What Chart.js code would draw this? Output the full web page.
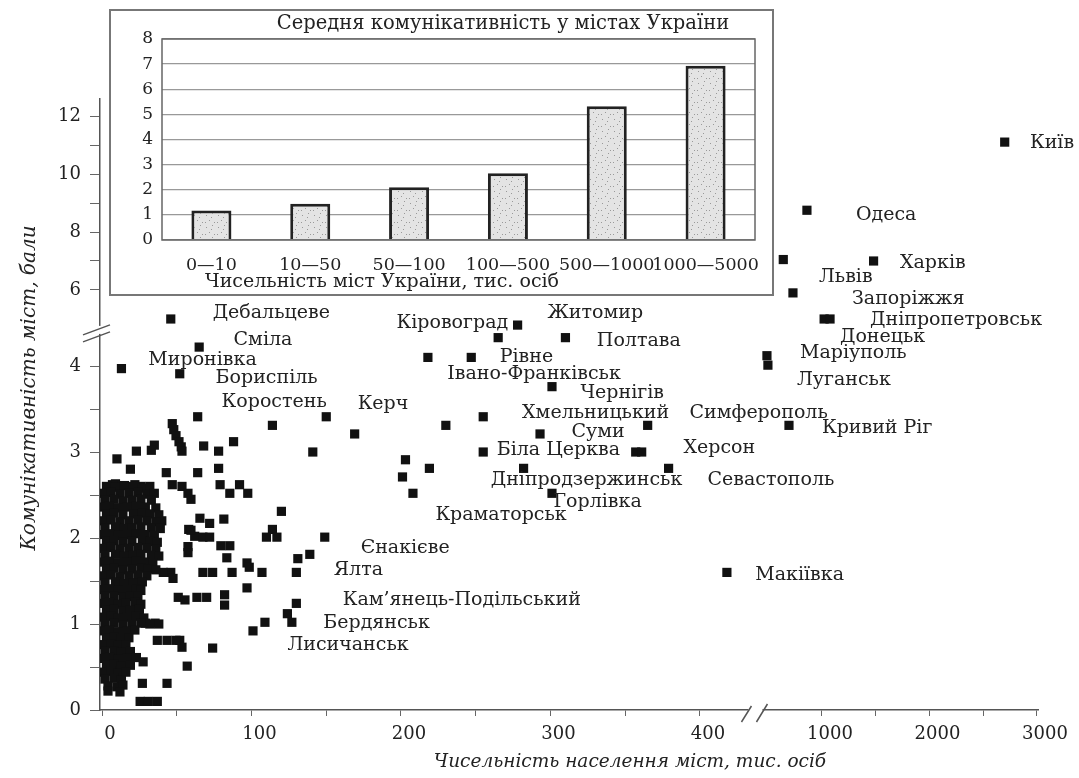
<!DOCTYPE html>
<html>
<head>
<meta charset="utf-8">
<script src="https://cdn.jsdelivr.net/npm/chart.js@4.4.1/dist/chart.umd.min.js"></script>
<style>
  body { margin: 0; background: #fff; }
  #wrap { position: relative; width: 1079px; height: 778px; }
  #main { position: absolute; left: 0; top: 0; }
  #inset { position: absolute; left: 108px; top: 8px; }
</style>
</head>
<body>
<div id="wrap">
  <canvas id="main" width="1079" height="778"></canvas>
  <canvas id="inset" width="667" height="289"></canvas>
</div>
<script>
// axis ticks (real values, both axes are broken)
const xTickValues = [0, 50, 100, 150, 200, 250, 300, 350, 400, 1000, 1500, 2000, 2500, 3000];
const xTickLabels = ['0', '', '100', '', '200', '', '300', '', '400', '1000', '', '2000', '', '3000'];
const yTickValues = [0, 0.5, 1, 1.5, 2, 2.5, 3, 3.5, 4, 6, 7, 8, 9, 10, 11, 12];
const yTickLabels = ['0', '', '1', '', '2', '', '3', '', '4', '6', '', '8', '', '10', '', '12'];

// cities outside the dense cluster: [population, thousand; communicativity]
const outerPoints = [
  [2700, 11.1], [860, 8.75], [1480, 7.0], [640, 7.05], [730, 5.9], [1020, 5.0], [1075, 5.0],
  [488, 4.12], [497, 4.01], [693, 3.31], [418, 1.6],
  [278, 4.79], [46, 5.0], [265, 4.33], [310, 4.33], [218, 4.1], [247, 4.1], [301, 3.76],
  [255, 3.41], [293, 3.21], [365, 3.31], [230, 3.31], [255, 3.0], [357, 3.0], [361, 3.0],
  [203, 2.91], [219, 2.81], [201, 2.71], [282, 2.81], [379, 2.81], [208, 2.52], [301, 2.52],
  [150, 3.41], [169, 3.21], [141, 3.0], [114, 3.31], [64, 3.41], [65, 4.22], [13, 3.97], [52, 3.91],
  [10, 2.92], [23, 3.01], [19, 2.8], [35, 3.08], [33, 3.02], [47, 3.33], [48, 3.26], [49.5, 3.19],
  [51.5, 3.12], [53, 3.06], [53.5, 3.01], [68, 3.07], [78, 3.01], [88, 3.12], [43, 2.76], [64, 2.76],
  [78, 2.81], [9, 2.63], [47, 2.62], [53.5, 2.6], [57.5, 2.52], [59.5, 2.45], [79, 2.62], [85.5, 2.52],
  [92, 2.62], [97.5, 2.52], [120, 2.31], [149, 2.01], [110, 2.01], [114, 2.1], [117, 2.01],
  [65.5, 2.23], [72, 2.17], [81.5, 2.22], [58, 2.1], [62, 2.02], [67.5, 2.01], [72, 2.01],
  [57.5, 1.9], [57.5, 1.83], [79.5, 1.91], [85.5, 1.91], [83.5, 1.77], [97, 1.71], [98.5, 1.66],
  [67.5, 1.6], [74, 1.6], [87, 1.6], [107, 1.6], [131, 1.76], [139, 1.81], [130, 1.6], [97, 1.42],
  [51, 1.31], [55.5, 1.28], [63.5, 1.31], [70, 1.31], [82, 1.34], [82, 1.22], [130, 1.24],
  [124, 1.12], [127, 1.02], [109, 1.02], [101, 0.92], [74, 0.72], [57, 0.51], [52, 0.81],
  [53.5, 0.73], [37, 0.81], [43.5, 0.81], [49.5, 0.81], [35.5, 1.01], [29, 1.01], [27.5, 0.56],
  [27, 0.31], [43.5, 0.31], [25.5, 0.1], [31, 0.1], [37, 0.1], [46, 1.6], [47.5, 1.53],
  [59.5, 2.09], [22, 2.62], [26, 2.6], [7, 2.62], [40, 2.2], [41, 1.6], [38, 1.0]
];

// small towns, dense block near the origin
const clusterPoints = [
  [3, 2.6], [9, 2.59], [15, 2.61], [21, 2.6], [27, 2.58], [32, 2.6],
  [1, 2.52], [6, 2.53], [12, 2.51], [18, 2.52], [24, 2.53], [30, 2.51], [35, 2.52],
  [2, 2.44], [8, 2.45], [14, 2.43], [20, 2.44], [26, 2.45], [33, 2.44],
  [1, 2.36], [5, 2.37], [11, 2.35], [17, 2.36], [23, 2.37], [29, 2.36], [36, 2.35],
  [3, 2.28], [8, 2.29], [14, 2.27], [21, 2.28], [27, 2.29], [32, 2.28], [38, 2.27],
  [1, 2.2], [6, 2.21], [12, 2.19], [18, 2.2], [24, 2.21], [30, 2.2], [36, 2.19],
  [2, 2.12], [9, 2.13], [15, 2.11], [20, 2.12], [26, 2.13], [33, 2.12], [39, 2.11],
  [1, 2.04], [5, 2.05], [11, 2.03], [17, 2.04], [23, 2.05], [29, 2.04], [35, 2.03],
  [3, 1.96], [8, 1.97], [14, 1.95], [20, 1.96], [27, 1.97], [32, 1.96], [37, 1.95],
  [1, 1.88], [6, 1.89], [12, 1.87], [18, 1.88], [24, 1.89], [30, 1.88], [36, 1.87],
  [2, 1.8], [9, 1.81], [15, 1.79], [21, 1.8], [26, 1.81], [33, 1.8], [38, 1.79],
  [1, 1.72], [5, 1.73], [11, 1.71], [17, 1.72], [23, 1.73], [29, 1.72], [34, 1.71],
  [3, 1.64], [8, 1.65], [14, 1.63], [20, 1.64], [26, 1.65], [31, 1.64], [36, 1.63],
  [1, 1.56], [6, 1.57], [12, 1.55], [18, 1.56], [24, 1.57], [30, 1.56],
  [2, 1.48], [9, 1.49], [15, 1.47], [21, 1.48], [27, 1.49],
  [0.5, 1.4], [5, 1.41], [11, 1.39], [17, 1.4], [23, 1.41], [26, 1.39],
  [2, 1.32], [8, 1.33], [14, 1.31], [19, 1.32], [24, 1.33],
  [1, 1.24], [5, 1.25], [11, 1.23], [16, 1.24], [22, 1.25], [26, 1.23],
  [3, 1.16], [8, 1.17], [14, 1.15], [19, 1.16], [25, 1.17],
  [1, 1.08], [6, 1.09], [11, 1.07], [17, 1.08], [23, 1.09], [28, 1.07],
  [2, 1.0], [8, 1.01], [14, 0.99], [20, 1.0], [26, 1.01], [32, 1.0],
  [1, 0.92], [5, 0.93], [11, 0.91], [17, 0.92], [22, 0.93],
  [3, 0.84], [8, 0.85], [13, 0.83], [18, 0.84],
  [1, 0.76], [6, 0.77], [11, 0.75], [16, 0.76],
  [2, 0.68], [8, 0.69], [13, 0.67], [19, 0.68],
  [1, 0.6], [5, 0.61], [11, 0.59], [17, 0.6], [23, 0.61],
  [3, 0.52], [8, 0.53], [13, 0.51], [19, 0.52],
  [1, 0.44], [6, 0.45], [11, 0.43], [16, 0.44],
  [2, 0.36], [8, 0.37], [13, 0.35],
  [4, 0.28], [10, 0.27], [14, 0.29], [4, 0.22], [12, 0.21]
];

// city captions, anchored at left / middle of the text
const labelNames = ['Київ', 'Одеса', 'Харків', 'Львів', 'Запоріжжя', 'Дніпропетровськ', 'Донецьк',
  'Маріуполь', 'Луганськ', 'Кривий Ріг', 'Симферополь', 'Херсон', 'Севастополь', 'Макіївка',
  'Житомир', 'Кіровоград', 'Полтава', 'Рівне', 'Івано-Франківськ', 'Чернігів', 'Хмельницький',
  'Суми', 'Біла Церква', 'Дніпродзержинськ', 'Горлівка', 'Краматорськ', 'Керч', 'Дебальцеве',
  'Сміла', 'Миронівка', 'Бориспіль', 'Коростень', 'Єнакієве', 'Ялта', 'Кам’янець-Подільський',
  'Бердянськ', 'Лисичанськ'];
const labelPop = [2935, 1316, 1726, 972, 1279, 1447, 1167,
  795, 767, 1000, 393, 389, 405, 437,
  298, 197, 331, 266, 231, 320, 281,
  314, 264, 260, 302, 223, 171, 74,
  88, 31, 76, 80, 173, 155, 161,
  148, 124];
const labelComm = [11.07, 8.59, 6.93, 6.45, 5.69, 4.97, 4.34,
  4.15, 3.84, 3.28, 3.45, 3.05, 2.67, 1.57,
  5.21, 4.86, 4.29, 4.1, 3.91, 3.69, 3.45,
  3.23, 3.02, 2.67, 2.42, 2.27, 3.56, 5.21,
  4.3, 4.07, 3.86, 3.58, 1.88, 1.63, 1.28,
  1.01, 0.76];

// inset: mean communicativity by city size
const bandLabels = ['0—10', '10—50', '50—100', '100—500', '500—1000', '1000—5000'];
const bandMeans = [1.17, 1.44, 2.1, 2.66, 5.32, 6.94];

// broken-axis mapping onto linear Chart.js scales
function toVX(v) { return v <= 440 ? v : 481.6 + (v - 1000) * 0.0719; }
function toVY(v) { return v <= 4.45 ? v : 4.884 + (v - 6) * 0.3372; }

const SERIF = '"DejaVu Serif", "Liberation Serif", serif';
const INK = '#222';

const mainDecor = {
  id: 'mainDecor',
  afterDraw(chart) {
    const { ctx } = chart;
    const xs = chart.scales.x, ys = chart.scales.y;
    const left = chart.chartArea.left, bottom = chart.chartArea.bottom;

    ctx.save();
    // captions
    ctx.font = '19px ' + SERIF;
    ctx.fillStyle = INK;
    ctx.textAlign = 'left';
    ctx.textBaseline = 'middle';
    labelNames.forEach((name, i) => {
      ctx.fillText(name, xs.getPixelForValue(toVX(labelPop[i])), ys.getPixelForValue(toVY(labelComm[i])));
    });

    // axis breaks
    ctx.strokeStyle = '#555';
    ctx.lineWidth = 1.5;
    const bx = xs.getPixelForValue((toVX(430) + toVX(480)) / 2);
    ctx.fillStyle = '#fff';
    ctx.fillRect(bx - 7, bottom - 3, 14, 6);
    ctx.beginPath();
    ctx.moveTo(bx - 14, bottom + 12); ctx.lineTo(bx - 4, bottom - 4);
    ctx.moveTo(bx + 1, bottom + 12); ctx.lineTo(bx + 12, bottom - 6);
    ctx.stroke();

    const by = ys.getPixelForValue(4.42);
    ctx.fillRect(left - 3, by - 4, 6, 8);
    ctx.beginPath();
    ctx.moveTo(left - 17, by + 12); ctx.lineTo(left + 10, by + 2);
    ctx.moveTo(left - 17, by + 5); ctx.lineTo(left + 10, by - 5);
    ctx.stroke();

    // axis titles
    ctx.fillStyle = INK;
    ctx.font = 'italic 18.5px ' + SERIF;
    ctx.textAlign = 'center';
    ctx.fillText('Чисельність населення міст, тис. осіб', 630, 762);
    ctx.font = 'italic 20px ' + SERIF;
    ctx.translate(30, 388);
    ctx.rotate(-Math.PI / 2);
    ctx.fillText('Комунікативність міст, бали', 0, 0);
    ctx.restore();
  }
};

const allPoints = outerPoints.concat(clusterPoints);

new Chart(document.getElementById('main'), {
  type: 'scatter',
  data: {
    datasets: [{
      data: allPoints.map(p => ({ x: toVX(p[0]), y: toVY(p[1]) })),
      pointStyle: 'rect',
      pointRadius: 6.5,
      backgroundColor: '#111',
      borderWidth: 0
    }]
  },
  options: {
    responsive: false,
    animation: false,
    layout: { padding: { left: 0, right: 41, top: 99, bottom: 0 } },
    plugins: { legend: { display: false }, tooltip: { enabled: false } },
    scales: {
      x: {
        type: 'linear',
        min: -1.34,
        max: 626.1,
        afterBuildTicks: s => { s.ticks = xTickValues.map(v => ({ value: toVX(v) })); },
        afterFit: s => { s.height = 68; },
        grid: { drawOnChartArea: false, tickLength: 6, color: '#666' },
        border: { color: '#555', width: 1.5 },
        ticks: {
          callback: (v, i) => xTickLabels[i],
          autoSkip: false, maxRotation: 0, padding: 8, labelOffset: 8,
          font: { family: SERIF, size: 18 }, color: INK
        }
      },
      y: {
        type: 'linear',
        min: 0,
        max: 7.105,
        afterBuildTicks: s => { s.ticks = yTickValues.map(v => ({ value: toVY(v) })); },
        afterFit: s => { s.width = 100; },
        grid: { drawOnChartArea: false, tickLength: 10, color: '#666' },
        border: { color: '#555', width: 1.5 },
        ticks: {
          callback: (v, i) => yTickLabels[i],
          autoSkip: false, padding: 9,
          font: { family: SERIF, size: 18 }, color: INK
        }
      }
    }
  },
  plugins: [mainDecor]
});

// speckled fill for the inset bars
function barPattern() {
  const c = document.createElement('canvas');
  c.width = 12; c.height = 12;
  const g = c.getContext('2d');
  g.fillStyle = '#e4e4e4';
  g.fillRect(0, 0, 12, 12);
  g.fillStyle = '#9a9a9a';
  [[2, 3], [8, 1], [5, 8], [10, 10], [1, 10], [7, 5]].forEach(d => g.fillRect(d[0], d[1], 1, 1));
  return g.createPattern(c, 'repeat');
}

const insetDecor = {
  id: 'insetDecor',
  beforeDraw(chart) {
    const { ctx, width, height } = chart;
    ctx.save();
    ctx.fillStyle = '#fff';
    ctx.fillRect(0, 0, width, height);
    ctx.restore();
  },
  afterDraw(chart) {
    const { ctx, width, height, chartArea: a } = chart;
    ctx.save();
    ctx.strokeStyle = '#777';
    ctx.lineWidth = 2;
    ctx.strokeRect(2, 2, width - 4, height - 4);
    ctx.strokeStyle = '#666';
    ctx.lineWidth = 1.5;
    ctx.strokeRect(a.left, a.top, a.right - a.left, a.bottom - a.top);
    ctx.fillStyle = INK;
    ctx.font = '19.5px ' + SERIF;
    ctx.textBaseline = 'middle';
    ctx.textAlign = 'center';
    ctx.fillText('Середня комунікативність у містах України', 395, 16);
    ctx.font = '19px ' + SERIF;
    ctx.textAlign = 'left';
    ctx.fillText('Чисельність міст України, тис. осіб', 97, 274);
    ctx.restore();
  }
};

new Chart(document.getElementById('inset'), {
  type: 'bar',
  data: {
    labels: bandLabels,
    datasets: [{
      data: bandMeans,
      backgroundColor: barPattern(),
      borderColor: '#222',
      borderWidth: 3,
      barPercentage: 0.405,
      categoryPercentage: 1
    }]
  },
  options: {
    responsive: false,
    animation: false,
    layout: { padding: { left: 0, right: 20, top: 31, bottom: 0 } },
    plugins: { legend: { display: false }, tooltip: { enabled: false } },
    scales: {
      x: {
        grid: { display: false },
        border: { display: false },
        afterFit: s => { s.height = 57; },
        ticks: { autoSkip: false, maxRotation: 0, padding: 7, font: { family: SERIF, size: 17.5 }, color: INK }
      },
      y: {
        min: 0, max: 8,
        afterFit: s => { s.width = 54; },
        grid: { color: '#999', lineWidth: 1.3, drawTicks: false },
        border: { display: false },
        ticks: { stepSize: 1, padding: 9, font: { family: SERIF, size: 17 }, color: INK }
      }
    }
  },
  plugins: [insetDecor]
});
</script>
</body>
</html>
